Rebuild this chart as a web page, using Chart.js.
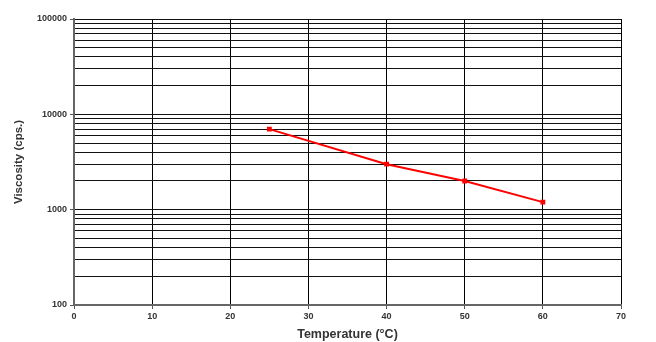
<!DOCTYPE html>
<html>
<head>
<meta charset="utf-8">
<script src="https://cdn.jsdelivr.net/npm/chart.js@4/dist/chart.umd.min.js"></script>
<style>
    html, body { margin: 0; padding: 0; background: #fff; }
    #wrap { width: 656px; height: 342px; position: relative; }
</style>
</head>
<body>
<div id="wrap"><canvas id="chart"></canvas></div>
<script>
// Data
const temperatures = [25, 40, 50, 60];
const viscosity = [7000, 3000, 2000, 1200];

const xTicks = [0, 10, 20, 30, 40, 50, 60, 70];
const yTickLabels = [100, 1000, 10000, 100000];

// grid lines at every 1..9 x decade
const yGrid = [];
for (let d = 100; d < 100000; d *= 10) {
    for (let m = 1; m < 10; m++) yGrid.push(d * m);
}
yGrid.push(100000);

const font = 'Arial, "Liberation Sans", sans-serif';

new Chart(document.getElementById('chart'), {
    type: 'line',
    data: {
        datasets: [{
            data: temperatures.map((t, i) => ({ x: t, y: viscosity[i] })),
            borderColor: '#ff0000',
            backgroundColor: '#ff0000',
            borderWidth: 2,
            pointRadius: 2,
            pointStyle: 'rect',
            tension: 0
        }]
    },
    options: {
        responsive: true,
        maintainAspectRatio: false,
        animation: false,
        layout: { padding: { top: 19, right: 35, bottom: 0, left: 0 } },
        plugins: { legend: { display: false }, tooltip: { enabled: false } },
        scales: {
            x: {
                type: 'linear',
                min: 0,
                max: 70,
                afterBuildTicks: (s) => { s.ticks = xTicks.map(v => ({ value: v })); },
                afterFit: (s) => { s.height = 37; },
                grid: { color: '#000', lineWidth: 1, tickLength: 4, tickColor: '#555' },
                border: { color: '#666', width: 2 },
                ticks: { color: '#333', font: { family: font, size: 9, weight: 'bold' }, padding: 2, maxRotation: 0 },
                title: {
                    display: true,
                    text: 'Temperature (°C)',
                    color: '#333',
                    font: { family: font, size: 12.5, weight: 'bold' },
                    padding: { top: 2, bottom: 0 }
                }
            },
            y: {
                type: 'logarithmic',
                min: 100,
                max: 100000,
                afterBuildTicks: (s) => { s.ticks = yGrid.map(v => ({ value: v })); },
                afterFit: (s) => { s.width = 74; },
                grid: { color: '#111', lineWidth: 1, tickLength: 4, tickColor: (c) => yTickLabels.includes(c.tick && c.tick.value) ? '#555' : 'rgba(0,0,0,0)' },
                border: { color: '#666', width: 2 },
                ticks: {
                    color: '#333',
                    autoSkip: false,
                    font: { family: font, size: 9, weight: 'bold' },
                    padding: 3,
                    callback: (v) => yTickLabels.includes(v) ? String(v) : ''
                },
                title: {
                    display: true,
                    text: 'Viscosity (cps.)',
                    color: '#333',
                    font: { family: font, size: 11.5, weight: 'bold' },
                    padding: { top: 12, bottom: 4 }
                }
            }
        }
    }
});
</script>
</body>
</html>
